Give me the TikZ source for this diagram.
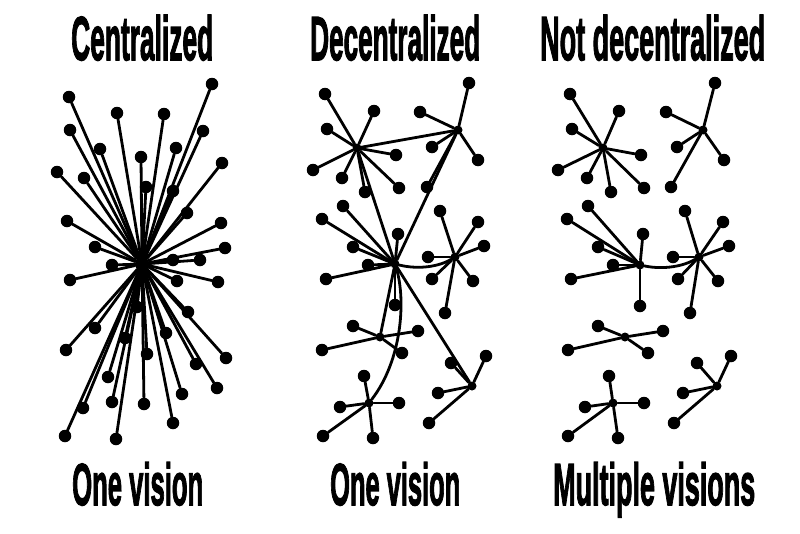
\documentclass[tikz,border=0pt]{standalone}
\usepackage{fontspec}
\setmainfont{Liberation Sans}
\newfontfamily\titlefont{Liberation Sans}[BoldFeatures={FakeBold=2.5}]
\usepackage{graphicx}
\begin{document}
\begin{tikzpicture}[x=1pt,y=-1pt,
  edge/.style={line width=2.8pt, line cap=round},
  dot/.style={circle, fill=black, inner sep=0pt, minimum size=12.5pt},
  hub/.style={circle, fill=black, inner sep=0pt, minimum size=9pt},
  lbl/.style={anchor=base west, inner sep=0pt, font=\titlefont\bfseries}]
\useasboundingbox[fill=white] (0,0) rectangle (800,533);

% ---------- titles ----------
\node[lbl] (t1) at (71,60) {\resizebox{142pt}{45pt}{Centralized}};
\node[lbl] (t2) at (310,60) {\resizebox{170pt}{45pt}{Decentralized}};
\node[lbl] (t3) at (540,60) {\resizebox{225pt}{45pt}{Not decentralized}};
\node[lbl] (b1) at (72,505) {\resizebox{131pt}{43pt}{One vision}};
\node[lbl] (b2) at (330,505) {\resizebox{130pt}{43pt}{One vision}};
\node[lbl] (b3) at (553,505) {\resizebox{202pt}{43pt}{Multiple visions}};

% ---------- centralized ----------
\node[hub, minimum size=14pt] (Z) at (142,264) {};
\foreach \p [count=\i] in {(69,97),(212,84),(117,113),(164,114),(70,130),(203,131),
  (100,149),(176,148),(141,157),(222,163),(57,172),(84,178),(146,187),(173,191),
  (187,213),(67,221),(221,223),(95,247),(225,248),(200,260),(173,260),(112,265),
  (70,280),(177,281),(218,282),(137,307),(188,312),(95,328),(166,333),(125,338),
  (66,350),(147,354),(226,358),(196,364),(108,377),(217,388),(182,394),(112,402),
  (144,404),(83,408),(173,423),(65,436),(116,439)}
  {\node[dot] (Z\i) at \p {}; \draw[edge] (Z) -- (Z\i);}

% ---------- decentralized ----------
\node[hub] (A) at (357,148) {};
\foreach \p [count=\i] in {(325,94),(374,111),(327,129),(396,155),(313,170),(342,178),(399,188),(365,192)}
  {\node[dot] (A\i) at \p {}; \draw[edge] (A) -- (A\i);}
\node[hub] (B) at (458,130) {};
\foreach \p [count=\i] in {(469,83),(420,112),(432,147),(478,160),(427,187)}
  {\node[dot] (B\i) at \p {}; \draw[edge] (B) -- (B\i);}
\node[hub] (C) at (395,264) {};
\foreach \p [count=\i] in {(343,206),(322,219),(353,247),(398,234),(368,265),(326,279),(395,305)}
  {\node[dot] (C\i) at \p {}; \draw[edge] (C) -- (C\i);}
\node[hub] (D) at (455,257) {};
\foreach \p [count=\i] in {(440,211),(478,222),(484,246),(428,257),(432,279),(473,281),(445,313)}
  {\node[dot] (D\i) at \p {}; \draw[edge] (D) -- (D\i);}
\node[hub] (E) at (380,337) {};
\foreach \p [count=\i] in {(353,326),(418,331),(322,350),(402,353)}
  {\node[dot] (E\i) at \p {}; \draw[edge] (E) -- (E\i);}
\node[hub] (F) at (369,403) {};
\foreach \p [count=\i] in {(364,376),(340,407),(399,403),(323,436),(373,438)}
  {\node[dot] (F\i) at \p {}; \draw[edge] (F) -- (F\i);}
\node[hub] (G) at (472,386) {};
\foreach \p [count=\i] in {(486,356),(451,363),(438,393),(429,423)}
  {\node[dot] (G\i) at \p {}; \draw[edge] (G) -- (G\i);}
\draw[edge] (A) -- (B);
\draw[edge] (A) -- (C);
\draw[edge] (B) -- (C);
\draw[edge] (C) .. controls (420,270) and (440,266) .. (D);
\draw[edge] (C) -- (E);
\draw[edge] (C) .. controls (406,300) and (402,360) .. (F);
\draw[edge] (C) -- (G);

% ---------- not decentralized ----------
\node[hub] (H) at (603,148) {};
\foreach \p [count=\i] in {(570,94),(619,111),(572,129),(641,155),(558,170),(587,178),(644,188),(611,192)}
  {\node[dot] (H\i) at \p {}; \draw[edge] (H) -- (H\i);}
\node[hub] (I) at (703,130) {};
\foreach \p [count=\i] in {(715,83),(666,112),(677,147),(724,160),(671,187)}
  {\node[dot] (I\i) at \p {}; \draw[edge] (I) -- (I\i);}
\node[hub] (J) at (640,265) {};
\foreach \p [count=\i] in {(588,206),(567,219),(598,247),(643,234),(613,265),(571,279),(640,306)}
  {\node[dot] (J\i) at \p {}; \draw[edge] (J) -- (J\i);}
\node[hub] (K) at (699,257) {};
\foreach \p [count=\i] in {(685,211),(723,222),(729,246),(673,257),(678,279),(718,281),(690,313)}
  {\node[dot] (K\i) at \p {}; \draw[edge] (K) -- (K\i);}
\node[hub] (L) at (625,337) {};
\foreach \p [count=\i] in {(598,326),(663,331),(568,350),(648,353)}
  {\node[dot] (L\i) at \p {}; \draw[edge] (L) -- (L\i);}
\node[hub] (M) at (613,403) {};
\foreach \p [count=\i] in {(609,376),(585,407),(644,403),(568,436),(618,438)}
  {\node[dot] (M\i) at \p {}; \draw[edge] (M) -- (M\i);}
\node[hub] (N) at (717,386) {};
\foreach \p [count=\i] in {(731,356),(697,363),(683,393),(674,423)}
  {\node[dot] (N\i) at \p {}; \draw[edge] (N) -- (N\i);}
\draw[edge] (J) .. controls (664,270) and (684,266) .. (K);
\end{tikzpicture}
\end{document}
